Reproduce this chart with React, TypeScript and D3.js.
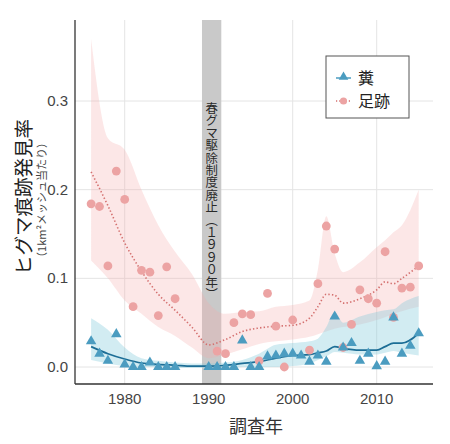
import React from 'react'
import * as d3 from 'd3'

// observed points
const footYears = [1976, 1977, 1978, 1979, 1980, 1981, 1982, 1983, 1984, 1985, 1986, 1991, 1992, 1993, 1994, 1995, 1996, 1997, 1998, 1999, 2000, 2002, 2003, 2004, 2005, 2006, 2007, 2008, 2009, 2010, 2011, 2012, 2013, 2014, 2015]
const footVals = [0.184, 0.181, 0.114, 0.221, 0.189, 0.068, 0.109, 0.107, 0.058, 0.113, 0.077, 0.018, 0.015, 0.050, 0.060, 0.059, 0.007, 0.083, 0.046, 0.000, 0.053, 0.019, 0.094, 0.159, 0.133, 0.022, 0.048, 0.087, 0.077, 0.072, 0.130, 0.056, 0.089, 0.090, 0.114]

const fecesYears = [1976, 1977, 1978, 1979, 1980, 1981, 1982, 1983, 1984, 1985, 1986, 1990, 1991, 1992, 1993, 1994, 1995, 1996, 1997, 1998, 1999, 2000, 2001, 2002, 2003, 2004, 2005, 2006, 2007, 2008, 2009, 2010, 2011, 2012, 2013, 2014, 2015]
const fecesVals = [0.029, 0.015, 0.007, 0.037, 0.003, 0, 0, 0.005, 0, 0, 0, 0, 0, 0, 0, 0.030, 0, 0, 0.012, 0.013, 0.015, 0.015, 0.013, 0.006, 0.013, 0.006, 0.057, 0.022, 0.027, 0.007, 0.015, 0.001, 0.006, 0.056, 0.015, 0.024, 0.038]

// smoothed trends + bands
const trendYears = [1976, 1978, 1980, 1982, 1984, 1986, 1988, 1990, 1992, 1994, 1996, 1998, 2000, 2002, 2003, 2004, 2005, 2006, 2008, 2010, 2011, 2012, 2013, 2015]
const footTrend = [0.220, 0.182, 0.140, 0.108, 0.082, 0.064, 0.045, 0.025, 0.031, 0.040, 0.044, 0.046, 0.047, 0.055, 0.068, 0.082, 0.081, 0.072, 0.077, 0.087, 0.096, 0.094, 0.100, 0.114]
const footUpper = [0.370, 0.258, 0.245, 0.200, 0.160, 0.130, 0.105, 0.072, 0.060, 0.062, 0.063, 0.068, 0.070, 0.075, 0.110, 0.170, 0.128, 0.107, 0.118, 0.135, 0.143, 0.152, 0.160, 0.200]
const footLower = [0.120, 0.100, 0.075, 0.060, 0.045, 0.035, 0.022, 0.010, 0.014, 0.020, 0.026, 0.029, 0.031, 0.034, 0.037, 0.040, 0.043, 0.045, 0.048, 0.053, 0.056, 0.060, 0.063, 0.068]
const fecesTrend = [0.023, 0.015, 0.009, 0.0045, 0.003, 0.002, 0.001, 0.001, 0.002, 0.004, 0.006, 0.010, 0.013, 0.014, 0.016, 0.018, 0.023, 0.021, 0.019, 0.019, 0.023, 0.027, 0.027, 0.038]
const fecesUpper = [0.055, 0.042, 0.022, 0.010, 0.007, 0.005, 0.004, 0.004, 0.005, 0.008, 0.015, 0.025, 0.027, 0.029, 0.032, 0.045, 0.062, 0.050, 0.057, 0.062, 0.064, 0.065, 0.072, 0.080]
const fecesLower = [0.008, 0.004, 0.001, 0, 0, -0.001, -0.001, -0.001, -0.001, 0, 0, 0, 0.001, 0.004, 0.008, 0.012, 0.017, 0.016, 0.014, 0.014, 0.016, 0.018, 0.016, 0.013]

const xTicks = [1980, 1990, 2000, 2010]
const yTicks = [0, 0.1, 0.2, 0.3]
const banStart = 1989.2
const banEnd = 1991.5

const W = 450
const H = 444
const left = 75
const right = 433
const top = 20
const bottom = 384

const jp = '"Noto Sans CJK JP", sans-serif'
const num = '"Liberation Sans", Arial, sans-serif'

export default function App() {
  const x = d3.scaleLinear().domain([1980, 2010]).range([124.7, 376.7])
  const y = d3.scaleLinear().domain([0, 0.3]).range([367, 101])

  const band = (up: number[], lo: number[]) =>
    d3.area<number>()
      .x(i => x(trendYears[i]))
      .y0(i => y(lo[i]))
      .y1(i => y(up[i]))
      .curve(d3.curveMonotoneX)(trendYears.map((_, i) => i)) || ''

  const trend = (vals: number[]) =>
    d3.line<number>()
      .x(i => x(trendYears[i]))
      .y(i => y(vals[i]))
      .curve(d3.curveMonotoneX)(trendYears.map((_, i) => i)) || ''

  const tri = d3.symbol(d3.symbolTriangle, 48)() || ''

  const pink = '#eca3a3'
  const blue = '#4b9cc0'

  return (
    <svg width={W} height={H} style={{ position: 'absolute', left: 0, top: 0, background: '#fff' }}>
      {/* grid */}
      {xTicks.map(t => (
        <line key={'gx' + t} x1={x(t)} x2={x(t)} y1={top} y2={bottom} stroke="#e4e4e4" strokeWidth={1} />
      ))}
      {yTicks.map(t => (
        <line key={'gy' + t} x1={left} x2={right} y1={y(t)} y2={y(t)} stroke="#e4e4e4" strokeWidth={1} />
      ))}

      {/* 1990 band */}
      <rect x={x(banStart)} y={top} width={x(banEnd) - x(banStart)} height={bottom - top} fill="#c9c9c9" />
      <text
        x={(x(banStart) + x(banEnd)) / 2}
        y={102}
        style={{ writingMode: 'vertical-rl' }}
        fontFamily={jp}
        fontSize={12.4}
        fill="#2a2a2a"
      >春グマ駆除制度廃止（１９９０年）</text>

      {/* ribbons */}
      <path d={band(footUpper, footLower)} fill="rgba(246,170,170,0.28)" />
      <path d={band(fecesUpper, fecesLower)} fill="rgba(130,202,218,0.36)" />

      {/* trends */}
      <path d={trend(footTrend)} fill="none" stroke="#d4706f" strokeWidth={1.6} strokeDasharray="1.4,2.2" />
      <path d={trend(fecesTrend)} fill="none" stroke="#1d6e96" strokeWidth={1.7} />

      {/* points */}
      {footYears.map((yr, i) => (
        <circle key={'f' + yr} cx={x(yr)} cy={y(footVals[i])} r={4.4} fill={pink} />
      ))}
      {fecesYears.map((yr, i) => (
        <path key={'c' + yr} d={tri} transform={`translate(${x(yr)},${y(fecesVals[i])})`} fill={blue} />
      ))}

      {/* axes */}
      <line x1={left} x2={left} y1={top} y2={bottom} stroke="#333" strokeWidth={1.3} />
      <line x1={left} x2={right} y1={bottom} y2={bottom} stroke="#333" strokeWidth={1.3} />
      {yTicks.map(t => (
        <text key={'ty' + t} x={68} y={y(t) + 5} textAnchor="end" fontFamily={num} fontSize={15} fill="#444">
          {d3.format('.1f')(t)}
        </text>
      ))}
      {xTicks.map(t => (
        <text key={'tx' + t} x={x(t)} y={404} textAnchor="middle" fontFamily={num} fontSize={15} fill="#444">
          {t}
        </text>
      ))}

      {/* titles */}
      <text x={256} y={433} textAnchor="middle" fontFamily={jp} fontSize={18} fill="#333">調査年</text>
      <text transform="translate(31,197) rotate(-90)" textAnchor="middle" fontFamily={jp} fontSize={19.5} fill="#222">ヒグマ痕跡発見率</text>
      <text transform="translate(45.5,200) rotate(-90)" textAnchor="middle" fontFamily={jp} fontSize={11} fill="#444">（1km²メッシュ当たり）</text>

      {/* legend */}
      <rect x={326} y={56} width={83} height={62} fill="#fff" stroke="#555" strokeWidth={1} />
      <line x1={336} x2={351} y1={78} y2={78} stroke={blue} strokeWidth={1.5} />
      <path d={d3.symbol(d3.symbolTriangle, 40)() || ''} transform="translate(343.5,77)" fill={blue} />
      <text x={358} y={84} fontFamily={jp} fontSize={16} fill="#222">糞</text>
      <line x1={336} x2={351} y1={101} y2={101} stroke="#d4706f" strokeWidth={1.5} strokeDasharray="1.2,2" />
      <circle cx={343.5} cy={101} r={3.6} fill={pink} />
      <text x={358} y={107} fontFamily={jp} fontSize={16} fill="#222">足跡</text>
    </svg>
  )
}
